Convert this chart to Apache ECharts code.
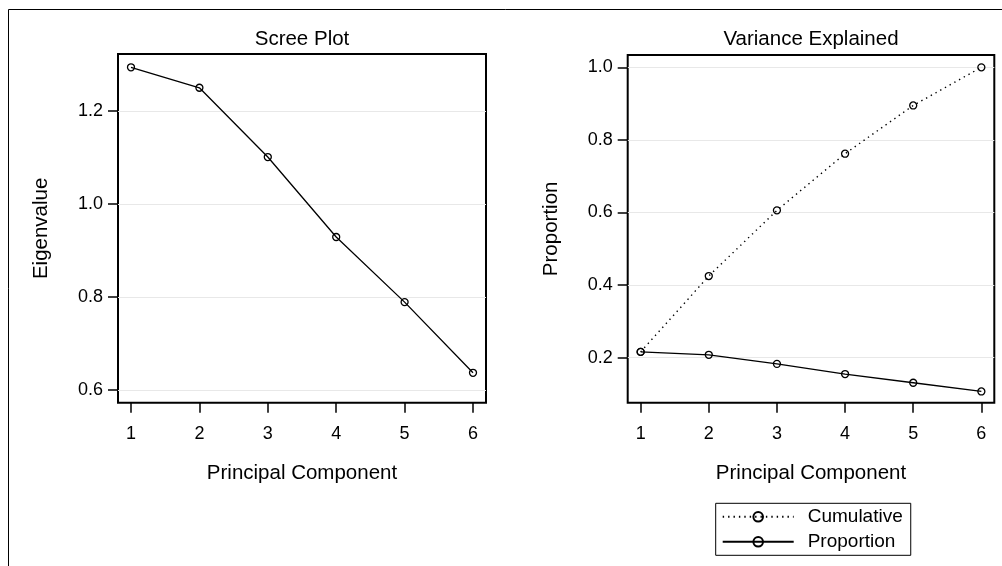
<!DOCTYPE html>
<html>
<head>
<meta charset="utf-8">
<script src="https://cdn.jsdelivr.net/npm/echarts@6/dist/echarts.min.js"></script>
<style>
html,body{margin:0;padding:0;background:#fff;}
#chart{width:1002px;height:566px;}
</style>
</head>
<body>
<div id="chart"></div>
<script>
const components = [1, 2, 3, 4, 5, 6];
const eigenvalues = [1.294, 1.250, 1.101, 0.929, 0.789, 0.637];
const proportion = [0.216, 0.208, 0.183, 0.155, 0.131, 0.107];
const cumulative = [0.216, 0.425, 0.606, 0.762, 0.895, 1.000];
const xTicks = [1, 2, 3, 4, 5, 6];
const yTicksLeft = [0.6, 0.8, 1.0, 1.2];
const yTicksRight = [0.2, 0.4, 0.6, 0.8, 1.0];
const titles = ['Scree Plot', 'Variance Explained'];
const xTitle = 'Principal Component';
const yTitles = ['Eigenvalue', 'Proportion'];
const seriesNames = ['Cumulative', 'Proportion'];

const FONT = "'Liberation Sans', Arial, sans-serif";
const pairs = (vals) => components.map((c, i) => [c, vals[i]]);

function xAxisDef(idx) {
  return {
    type: 'value', gridIndex: idx, min: 0.81, max: 6.19,
    name: xTitle, nameLocation: 'middle', nameGap: 60,
    nameTextStyle: {fontFamily: FONT, fontSize: 20.5, color: '#000'},
    axisLine: {show: false},
    axisTick: {show: true, length: 10, customValues: xTicks, lineStyle: {color: '#000', width: 1.5}},
    axisLabel: {customValues: xTicks, margin: 22, fontFamily: FONT, fontSize: 18, color: '#000'},
    splitLine: {show: false}
  };
}
function yAxisDef(idx, min, max, ticks) {
  return {
    type: 'value', gridIndex: idx, min: min, max: max,
    name: yTitles[idx], nameLocation: 'middle', nameGap: 66,
    nameTextStyle: {fontFamily: FONT, fontSize: 20.5, color: '#000'},
    axisLine: {show: false},
    axisTick: {show: true, length: 10, customValues: ticks, lineStyle: {color: '#000', width: 1.5}},
    axisLabel: {customValues: ticks, margin: 15, fontFamily: FONT, fontSize: 18, color: '#000',
      formatter: v => Number(v).toFixed(1)},
    splitLine: {show: true, lineStyle: {color: '#e8e8e8', width: 1}}
  };
}
const markerStyle = {color: 'transparent', borderColor: '#000', borderWidth: 1.3};

const chart = echarts.init(document.getElementById('chart'), null, {renderer: 'canvas'});
chart.setOption({
  animation: false,
  backgroundColor: '#fff',
  graphic: [{
    type: 'rect', silent: true, z: -10,
    shape: {x: 8.5, y: 9.5, width: 1200, height: 800},
    style: {fill: null, stroke: '#000', lineWidth: 1}
  }],
  title: [
    {text: titles[0], left: 302, top: 29, textAlign: 'center', padding: 0,
     textStyle: {fontFamily: FONT, fontSize: 20.5, fontWeight: 'normal', color: '#000'}},
    {text: titles[1], left: 811, top: 29, textAlign: 'center', padding: 0,
     textStyle: {fontFamily: FONT, fontSize: 20.5, fontWeight: 'normal', color: '#000'}}
  ],
  grid: [
    {left: 118, top: 54, width: 368, height: 348.7, show: true, borderColor: '#000', borderWidth: 2, backgroundColor: 'transparent'},
    {left: 627.7, top: 55, width: 366.6, height: 347.7, show: true, borderColor: '#000', borderWidth: 2, backgroundColor: 'transparent'}
  ],
  xAxis: [xAxisDef(0), xAxisDef(1)],
  yAxis: [yAxisDef(0, 0.5727, 1.3226, yTicksLeft), yAxisDef(1, 0.076, 1.034, yTicksRight)],
  legend: {
    data: seriesNames, orient: 'vertical', left: 715.7, top: 503.3,
    padding: [4, 8, 4, 6], itemGap: 6, itemWidth: 71, itemHeight: 12,
    borderColor: '#000', borderWidth: 1,
    textStyle: {fontFamily: FONT, fontSize: 19, color: '#000', padding: [0, 0, 0, 9]}
  },
  series: [
    {name: 'Eigenvalue', type: 'line', xAxisIndex: 0, yAxisIndex: 0, data: pairs(eigenvalues),
     symbol: 'circle', symbolSize: 7, showSymbol: true,
     lineStyle: {color: '#000', width: 1.3}, itemStyle: markerStyle},
    {name: seriesNames[0], type: 'line', xAxisIndex: 1, yAxisIndex: 1, data: pairs(cumulative),
     symbol: 'circle', symbolSize: 7,
     lineStyle: {color: '#000', width: 1.4, type: [1.4, 4]}, itemStyle: markerStyle},
    {name: seriesNames[1], type: 'line', xAxisIndex: 1, yAxisIndex: 1, data: pairs(proportion),
     symbol: 'circle', symbolSize: 7,
     lineStyle: {color: '#000', width: 1.3}, itemStyle: markerStyle}
  ]
});
</script>
</body>
</html>
